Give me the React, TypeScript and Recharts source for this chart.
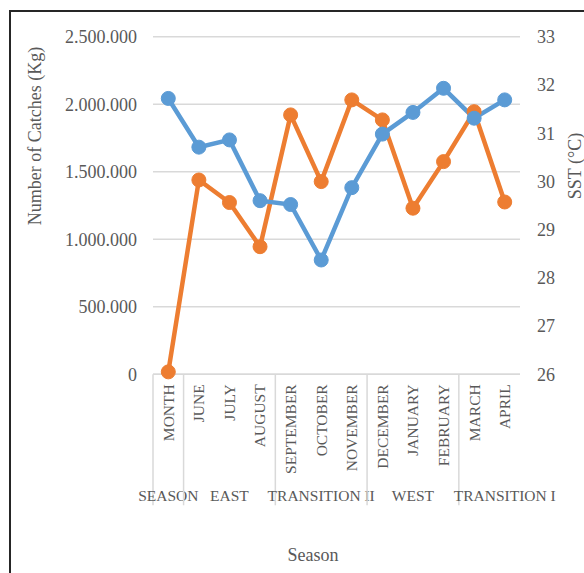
import { LineChart, Line, XAxis, YAxis, CartesianGrid } from "recharts"

const months = ["MONTH", "JUNE", "JULY", "AUGUST", "SEPTEMBER", "OCTOBER", "NOVEMBER", "DECEMBER", "JANUARY", "FEBRUARY", "MARCH", "APRIL"]
const seasons = ["SEASON", "", "EAST", "", "", "TRANSITION II", "", "", "WEST", "", "", "TRANSITION I"]
const groupStarts = [0, 1, 4, 7, 10]

// Number of Catches (Kg) - left axis
const catches = [18000, 1439000, 1272000, 945000, 1921000, 1427000, 2032000, 1884000, 1230000, 1575000, 1945000, 1276000]
// SST (°C) - right axis
const sst = [31.72, 30.71, 30.86, 29.6, 29.52, 28.37, 29.87, 30.98, 31.43, 31.93, 31.31, 31.69]

const catchTicks = [0, 500000, 1000000, 1500000, 2000000, 2500000]
const sstTicks = [26, 27, 28, 29, 30, 31, 32, 33]

const data = months.map((m, i) => ({ month: m, catches: catches[i], sst: sst[i] }))

const W = 584
const H = 573
const LEFT_W = 153
const RIGHT_W = 64
const TOP = 36.7
const X_H = 198.7
const PLOT_W = W - LEFT_W - RIGHT_W
const BW = PLOT_W / months.length

const FONT = "'Liberation Serif', 'Times New Roman', serif"
const TEXT = "#595959"
const GRID = "#D9D9D9"
const BLUE = "#5B9BD5"
const ORANGE = "#ED7D31"

function fmt(v: number) {
  return String(v).replace(/\B(?=(\d{3})+(?!\d))/g, ".")
}

function MonthTick(props: any) {
  const { x, y, payload } = props
  const i = props.index ?? payload.index
  return (
    <g>
      {groupStarts.includes(i) && (
        <line x1={x - BW / 2} x2={x - BW / 2} y1={y} y2={y + 131} stroke={GRID} strokeWidth={1.5} />
      )}
      <text
        transform={`translate(${x},${y + 10}) rotate(-90)`}
        textAnchor="end"
        dy="0.35em"
        fontSize={15.5}
        fill={TEXT}
        fontFamily={FONT}
      >
        {payload.value}
      </text>
      {seasons[i] && (
        <text x={x} y={y + 127} textAnchor="middle" fontSize={15.5} fill={TEXT} fontFamily={FONT}>
          {seasons[i]}
        </text>
      )}
    </g>
  )
}

export default function App() {
  return (
    <div style={{ position: "absolute", left: 0, top: 0, width: W, height: H, overflow: "hidden", background: "#fff", fontFamily: FONT }}>
      <div style={{ position: "absolute", left: 9, top: 10, width: 700, height: 700, border: "2px solid #262626" }} />
      <div style={{ position: "absolute", left: 0, top: 0 }}>
        <LineChart width={W} height={H} data={data} margin={{ top: TOP, right: 0, left: 0, bottom: 0 }}>
          <CartesianGrid yAxisId="left" vertical={false} stroke={GRID} strokeWidth={1.5} />
          <XAxis
            dataKey="month"
            interval={0}
            height={X_H}
            tickSize={0}
            tickMargin={0}
            padding={{ left: BW / 2, right: BW / 2 }}
            axisLine={{ stroke: GRID, strokeWidth: 1.5 }}
            tick={<MonthTick />}
          />
          <YAxis
            yAxisId="left"
            width={LEFT_W}
            domain={[0, 2500000]}
            ticks={catchTicks}
            tickFormatter={fmt}
            axisLine={false}
            tickLine={false}
            tickSize={0}
            tickMargin={16}
            tick={{ fontSize: 18, fill: TEXT, fontFamily: FONT }}
          />
          <YAxis
            yAxisId="right"
            orientation="right"
            width={RIGHT_W}
            domain={[26, 33]}
            ticks={sstTicks}
            axisLine={false}
            tickLine={false}
            tickSize={0}
            tickMargin={17}
            tick={{ fontSize: 18, fill: TEXT, fontFamily: FONT, textAnchor: "start" }}
          />
          <Line
            yAxisId="left"
            type="linear"
            dataKey="catches"
            stroke={ORANGE}
            strokeWidth={4.5}
            dot={{ r: 7, fill: ORANGE, stroke: ORANGE, strokeWidth: 1 }}
            activeDot={false}
            isAnimationActive={false}
          />
          <Line
            yAxisId="right"
            type="linear"
            dataKey="sst"
            stroke={BLUE}
            strokeWidth={4.5}
            dot={{ r: 7, fill: BLUE, stroke: BLUE, strokeWidth: 1 }}
            activeDot={false}
            isAnimationActive={false}
          />
        </LineChart>
      </div>
      <svg width={W} height={H} style={{ position: "absolute", left: 0, top: 0, pointerEvents: "none" }}>
        <text transform="translate(35,136) rotate(-90)" textAnchor="middle" dy="0.35em" fontSize={18} fill={TEXT} fontFamily={FONT}>
          Number of Catches (Kg)
        </text>
        <text transform="translate(575,166) rotate(-90)" textAnchor="middle" dy="0.35em" fontSize={18} fill={TEXT} fontFamily={FONT}>
          SST (°C)
        </text>
        <text x={313} y={555} textAnchor="middle" dy="0.35em" fontSize={18} fill={TEXT} fontFamily={FONT}>
          Season
        </text>
      </svg>
    </div>
  )
}
